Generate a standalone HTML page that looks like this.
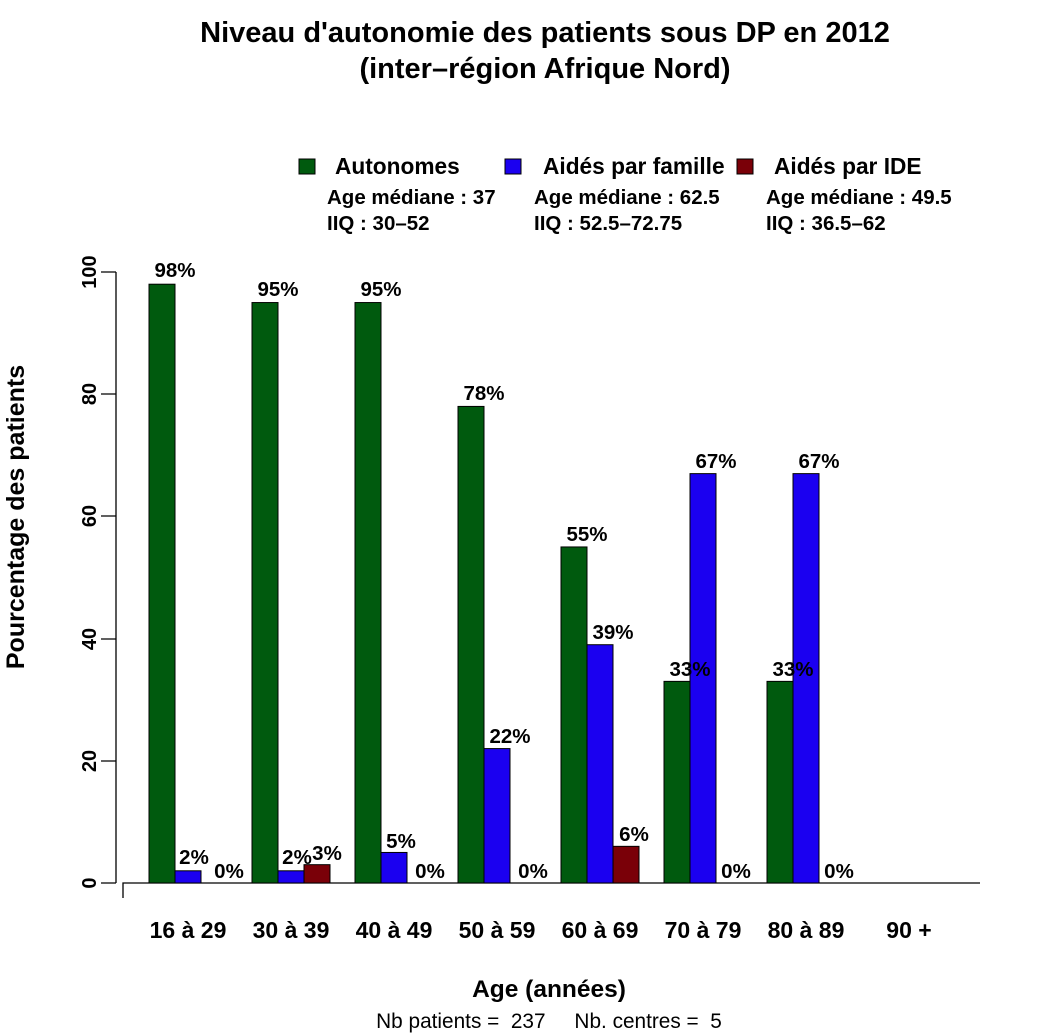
<!DOCTYPE html>
<html><head><meta charset="utf-8"><style>body{margin:0;background:#fff}svg{display:block}text{font-family:"Liberation Sans",Arial,sans-serif;font-weight:bold;fill:#000}</style></head><body>
<svg width="1044" height="1036" viewBox="0 0 1044 1036">
<text x="545" y="42" font-size="29" text-anchor="middle">Niveau d'autonomie des patients sous DP en 2012</text>
<text x="545" y="78" font-size="29" text-anchor="middle">(inter–région Afrique Nord)</text>
<rect x="299" y="159" width="16" height="15" fill="#005a0e" stroke="#000"/>
<text x="335" y="174" font-size="22.7">Autonomes</text>
<rect x="505" y="159" width="16" height="15" fill="#1b00f0" stroke="#000"/>
<text x="543" y="174" font-size="22.7">Aidés par famille</text>
<rect x="737" y="159" width="16" height="15" fill="#7a0008" stroke="#000"/>
<text x="774" y="174" font-size="22.7">Aidés par IDE</text>
<g font-size="20.5">
<text x="327" y="204">Age médiane : 37</text><text x="327" y="230">IIQ : 30–52</text>
<text x="534" y="204">Age médiane : 62.5</text><text x="534" y="230">IIQ : 52.5–72.75</text>
<text x="766" y="204">Age médiane : 49.5</text><text x="766" y="230">IIQ : 36.5–62</text>
</g>
<g stroke="#000" stroke-width="1.3" fill="none">
<path d="M116 272V883M101 272H116M101 394H116M101 516H116M101 639H116M101 761H116M101 883H116"/>
<path d="M123 898V883H980"/>
</g>
<g font-size="20" text-anchor="middle">
<text transform="translate(96,272) rotate(-90)">100</text>
<text transform="translate(96,394) rotate(-90)">80</text>
<text transform="translate(96,516) rotate(-90)">60</text>
<text transform="translate(96,639) rotate(-90)">40</text>
<text transform="translate(96,761) rotate(-90)">20</text>
<text transform="translate(96,883) rotate(-90)">0</text>
</g>
<text transform="translate(24,517) rotate(-90)" font-size="25" text-anchor="middle">Pourcentage des patients</text>
<g stroke="#000" stroke-width="1">
<rect x="149" y="284.2" width="26" height="598.8" fill="#005a0e"/>
<rect x="175" y="870.8" width="26" height="12.2" fill="#1b00f0"/>
<rect x="201" y="883" width="26" height="0" fill="#7a0008"/>
<rect x="252" y="302.55" width="26" height="580.45" fill="#005a0e"/>
<rect x="278" y="870.8" width="26" height="12.2" fill="#1b00f0"/>
<rect x="304" y="864.67" width="26" height="18.33" fill="#7a0008"/>
<rect x="355" y="302.55" width="26" height="580.45" fill="#005a0e"/>
<rect x="381" y="852.45" width="26" height="30.55" fill="#1b00f0"/>
<rect x="407" y="883" width="26" height="0" fill="#7a0008"/>
<rect x="458" y="406.42" width="26" height="476.58" fill="#005a0e"/>
<rect x="484" y="748.58" width="26" height="134.42" fill="#1b00f0"/>
<rect x="510" y="883" width="26" height="0" fill="#7a0008"/>
<rect x="561" y="546.95" width="26" height="336.05" fill="#005a0e"/>
<rect x="587" y="644.71" width="26" height="238.29" fill="#1b00f0"/>
<rect x="613" y="846.34" width="26" height="36.66" fill="#7a0008"/>
<rect x="664" y="681.37" width="26" height="201.63" fill="#005a0e"/>
<rect x="690" y="473.63" width="26" height="409.37" fill="#1b00f0"/>
<rect x="716" y="883" width="26" height="0" fill="#7a0008"/>
<rect x="767" y="681.37" width="26" height="201.63" fill="#005a0e"/>
<rect x="793" y="473.63" width="26" height="409.37" fill="#1b00f0"/>
<rect x="819" y="883" width="26" height="0" fill="#7a0008"/>
</g>
<g font-size="20.5" text-anchor="middle">
<text x="175" y="277">98%</text><text x="194" y="864">2%</text><text x="229" y="878">0%</text>
<text x="278" y="296">95%</text><text x="297" y="864">2%</text><text x="327" y="860">3%</text>
<text x="381" y="296">95%</text><text x="401" y="848">5%</text><text x="430" y="878">0%</text>
<text x="484" y="400">78%</text><text x="510" y="743">22%</text><text x="533" y="878">0%</text>
<text x="587" y="541">55%</text><text x="613" y="639">39%</text><text x="634" y="841">6%</text>
<text x="690" y="676">33%</text><text x="716" y="468">67%</text><text x="736" y="878">0%</text>
<text x="793" y="676">33%</text><text x="819" y="468">67%</text><text x="839" y="878">0%</text>
</g>
<g font-size="23" text-anchor="middle">
<text x="188" y="938">16 à 29</text><text x="291" y="938">30 à 39</text><text x="394" y="938">40 à 49</text><text x="497" y="938">50 à 59</text>
<text x="600" y="938">60 à 69</text><text x="703" y="938">70 à 79</text><text x="806" y="938">80 à 89</text><text x="909" y="938">90 +</text>
</g>
<text x="549" y="997" font-size="24.5" text-anchor="middle">Age (années)</text>
<text x="549" y="1028" font-size="20.8" text-anchor="middle" xml:space="preserve" style="font-weight:normal;white-space:pre">Nb patients =  237     Nb. centres =  5</text>
</svg></body></html>
